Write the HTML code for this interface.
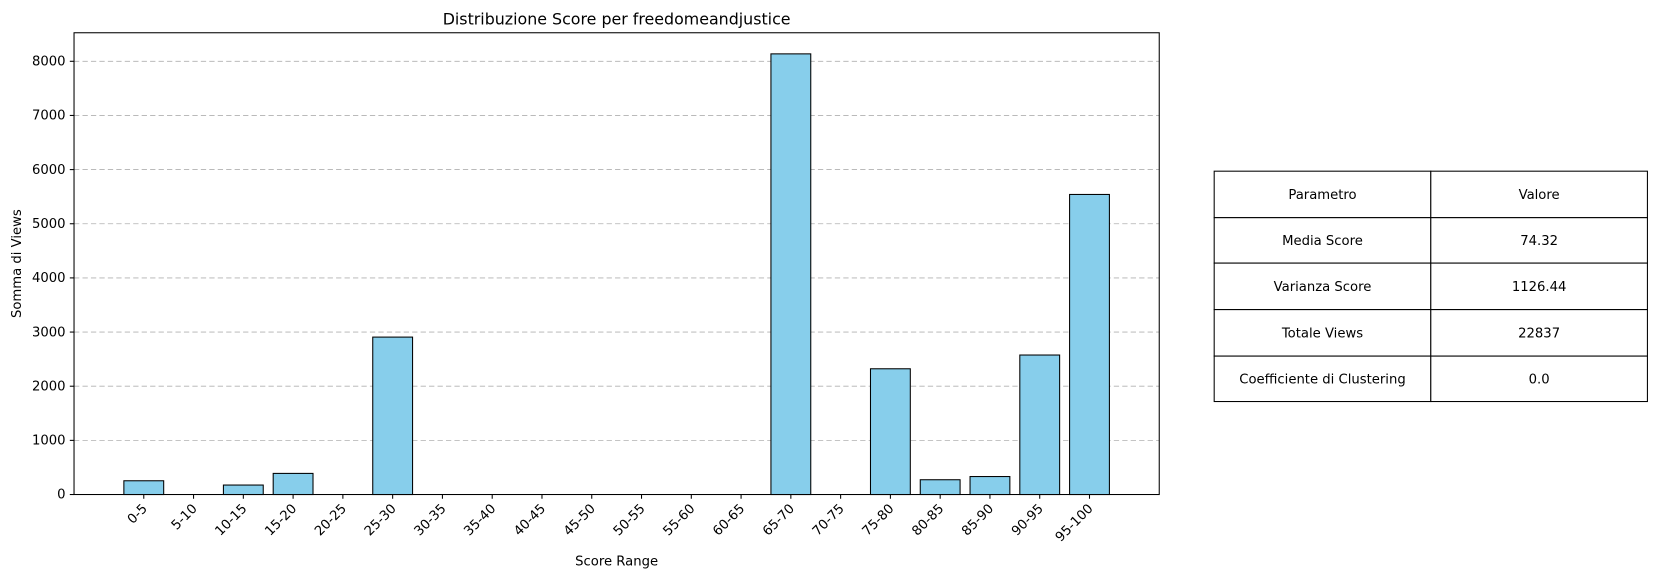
<!DOCTYPE html>
<html><head><meta charset="utf-8">
<style>
body{margin:0;background:#fff;font-family:"Liberation Sans","DejaVu Sans",sans-serif;overflow:hidden;}
svg{display:block;}
svg text{font-family:"DejaVu Sans","Liberation Sans",sans-serif;}
</style></head>
<body>
<svg id="chart" width="1657" height="578" viewBox="0 0 1568 547" xmlns="http://www.w3.org/2000/svg">
<rect width="1568" height="547" fill="#fff"/>
<g id="grid"></g>
<g id="bars"></g>
<g id="axes"></g>
<g id="table"></g>
</svg>
<script>
const categories=["0-5","5-10","10-15","15-20","20-25","25-30","30-35","35-40","40-45","45-50","50-55","55-60","60-65","65-70","70-75","75-80","80-85","85-90","90-95","95-100"];
const views=[254,0,175,390,0,2907,0,0,0,0,0,0,0,8137,0,2322,273,332,2576,5541];
const yTicks=[0,1000,2000,3000,4000,5000,6000,7000,8000];
const tableHeader=["Parametro","Valore"];
const tableLabels=["Media Score","Varianza Score","Totale Views","Coefficiente di Clustering"];
const tableValues=["74.32","1126.44","22837","0.0"];

const NS="http://www.w3.org/2000/svg";
const L=70,R=1097,T=31,B=468;
const x0=136,step=(1031-136)/19,bw=step*0.8;
function xs(i){return x0+i*step;}
function ys(v){return B-v*(410/8000);}
function mk(tag,attrs,parent,text){const e=document.createElementNS(NS,tag);for(const k in attrs)e.setAttribute(k,attrs[k]);if(text!==undefined)e.textContent=text;parent.appendChild(e);return e;}
const grid=document.getElementById('grid'),bars=document.getElementById('bars'),axes=document.getElementById('axes'),tbl=document.getElementById('table');
yTicks.forEach(t=>{
  const y=ys(t);
  if(t>0){const g=mk('line',{x1:L,x2:R,y1:y,y2:y,stroke:'#b0b0b0','stroke-dasharray':'5,3','stroke-width':0.8},grid);
  
  }
  mk('line',{x1:L-4,x2:L,y1:y,y2:y,stroke:'#000'},axes);
  const lb=mk('text',{x:L-8,y:y+4,'text-anchor':'end','font-size':12.5},axes,String(t));
  
  
});
categories.forEach((c,i)=>{
  const x=xs(i),v=views[i];
  const r=mk('rect',{x:x-bw/2,y:ys(v),width:bw,height:B-ys(v),fill:'#87ceeb',stroke:'#000','stroke-width':1},bars);
  
  
  mk('line',{x1:x,x2:x,y1:B,y2:B+4,stroke:'#000'},axes);
  const t=mk('text',{x:x+4,y:B+14,'text-anchor':'end','font-size':12.5,transform:`rotate(-45 ${x+4} ${B+14})`},axes,c);
  
  
});
const fr=mk('rect',{x:L,y:T,width:R-L,height:B-T,fill:'none',stroke:'#000','stroke-width':1},axes);


const tt=mk('text',{x:(L+R)/2,y:23,'text-anchor':'middle','font-size':15},axes,'Distribuzione Score per freedomeandjustice');


const xt=mk('text',{x:(L+R)/2,y:535,'text-anchor':'middle','font-size':12.5},axes,'Score Range');


const yt=mk('text',{x:20,y:(T+B)/2,'text-anchor':'middle','font-size':12.5,transform:`rotate(-90 20 ${(T+B)/2})`},axes,'Somma di Views');


const TX=1149,TM=1354,TR=1559,rowY=[162,206,249,293,337,380];
const rows=[tableHeader].concat(tableLabels.map((l,i)=>[l,tableValues[i]]));
rows.forEach((r,i)=>{
  const y1=rowY[i],y2=rowY[i+1];
  const c1=mk('rect',{x:TX,y:y1,width:TM-TX,height:y2-y1,fill:'#fff',stroke:'#000'},tbl);
  
  
  const c2=mk('rect',{x:TM,y:y1,width:TR-TM,height:y2-y1,fill:'#fff',stroke:'#000'},tbl);
  
  
  const a=mk('text',{x:(TX+TM)/2,y:(y1+y2)/2+4.5,'text-anchor':'middle','font-size':12.5},tbl,r[0]);
  
  
  const b=mk('text',{x:(TM+TR)/2,y:(y1+y2)/2+4.5,'text-anchor':'middle','font-size':12.5},tbl,r[1]);
  
  
});
</script>
</body></html>
